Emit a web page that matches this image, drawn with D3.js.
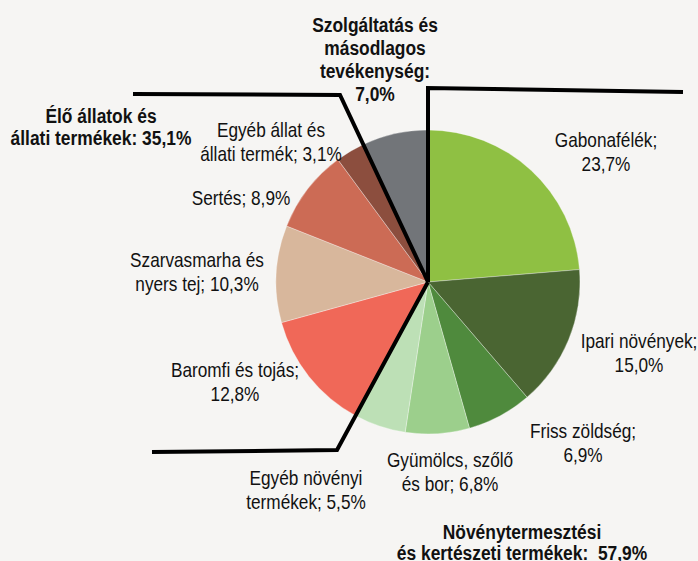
<!DOCTYPE html>
<html><head><meta charset="utf-8">
<script src="https://cdn.jsdelivr.net/npm/d3@7"></script>
<style>html,body{margin:0;padding:0;background:#f6f5f3;}svg{display:block;}</style>
</head><body>
<svg id="chart" width="698" height="561"></svg>
<script>
// ---- data ----
const categories = ["Gabonafélék", "Ipari növények", "Friss zöldség", "Gyümölcs, szőlő és bor", "Egyéb növényi termékek",
  "Baromfi és tojás", "Szarvasmarha és nyers tej", "Sertés", "Egyéb állat és állati termék", "Szolgáltatás és másodlagos tevékenység"];
const values = [23.7, 15.0, 6.9, 6.8, 5.5, 12.8, 10.3, 8.9, 3.1, 7.0];
const groupOf = ["plant", "plant", "plant", "plant", "plant", "animal", "animal", "animal", "animal", "service"];
const groups = ["Növénytermesztési és kertészeti termékek", "Élő állatok és állati termékek", "Szolgáltatás és másodlagos tevékenység"];
const groupKeys = ["plant", "animal", "service"];
const groupValues = [57.9, 35.1, 7.0];
const colors = ["#8fc043", "#4a6532", "#4f8a3d", "#9ccf8c", "#bde0b6", "#f06858", "#d8b79c", "#cc6b55", "#8c4e3e", "#727579"];

// ---- layout ----
const W = 698, H = 561, cx = 428, cy = 282, R = 152;
const fmt = v => d3.format(".1f")(v).replace(".", ",") + "%";
const svg = d3.select("#chart");
svg.append("rect").attr("width", W).attr("height", H).attr("fill", "#f6f5f3");

const data = categories.map((c, i) => ({c, v: values[i], g: groupOf[i], color: colors[i]}));
const pie = d3.pie().sort(null).value(d => d.v).startAngle(0).endAngle(2 * Math.PI);
const arc = d3.arc().innerRadius(0).outerRadius(R);
const arcs = pie(data);

const g = svg.append("g").attr("transform", `translate(${cx},${cy})`);
g.selectAll("path").data(arcs).join("path")
  .attr("d", arc).attr("fill", d => d.data.color)
  .attr("stroke", "rgba(255,255,255,0.45)").attr("stroke-width", 0.7);

// group boundary lines
const total = d3.sum(values);
function groupStart(key) {
  const idx = groupOf.indexOf(key);
  return d3.sum(values.slice(0, idx)) / total;
}
const lineSpecs = [
  {frac: groupStart("plant"), cornerY: 88, endX: 683, endY: 92},
  {frac: groupStart("animal"), cornerY: 450, endX: 152, endY: 452},
  {frac: groupStart("service"), cornerY: 95, endX: 133, endY: 94}
];
lineSpecs.forEach(s => {
  const a = s.frac * 2 * Math.PI;
  const dx = Math.sin(a), dy = -Math.cos(a);
  const t = (s.cornerY - cy) / dy;
  const px = cx + t * dx;
  svg.append("path")
    .attr("d", d3.line()([[cx, cy], [px, s.cornerY], [s.endX, s.endY]]))
    .attr("fill", "none").attr("stroke", "#000").attr("stroke-width", 4)
    .attr("stroke-linejoin", "miter");
});

// slice labels
const labelLayout = {
  "Gabonafélék": {x: 606, y: 147, wrap: 1},
  "Ipari növények": {x: 639, y: 348, wrap: 2},
  "Friss zöldség": {x: 583, y: 438, wrap: 2},
  "Gyümölcs, szőlő és bor": {x: 450, y: 467, wrap: 2},
  "Egyéb növényi termékek": {x: 306, y: 485, wrap: 2},
  "Baromfi és tojás": {x: 235, y: 377, wrap: 3},
  "Szarvasmarha és nyers tej": {x: 197, y: 267, wrap: 2},
  "Sertés": {x: 241, y: 205, wrap: 99},
  "Egyéb állat és állati termék": {x: 271, y: 137, wrap: 3}
};
function drawText(lines, x, y, lh, size, weight, sx) {
  const t = svg.append("g").attr("transform", `translate(${x},${y}) scale(${sx},1)`);
  lines.forEach((ln, i) => {
    t.append("text").attr("x", 0).attr("y", i * lh).attr("text-anchor", "middle")
      .attr("font-family", "'Liberation Sans', Arial, sans-serif")
      .attr("font-size", size).attr("font-weight", weight).attr("fill", "#111")
      .text(ln);
  });
}
data.forEach(d => {
  const L = labelLayout[d.c];
  if (!L) return;
  const words = (d.c + "; " + fmt(d.v)).split(" ");
  const lines = L.wrap >= words.length ? [words.join(" ")] : [words.slice(0, L.wrap).join(" "), words.slice(L.wrap).join(" ")];
  drawText(lines, L.x, L.y, 24, 21, "normal", 0.82);
});

// group labels
const groupLayout = {
  plant: {x: 522, y: 539, lh: 21, lines: (n, v) => ["Növénytermesztési", "és kertészeti termékek:\u00a0\u00a0" + v]},
  animal: {x: 101, y: 123, lh: 22, lines: (n, v) => ["Élő állatok és", "állati termékek: " + v]},
  service: {x: 375, y: 32, lh: 23, lines: (n, v) => ["Szolgáltatás és", "másodlagos", "tevékenység:", v]}
};
groupKeys.forEach((k, i) => {
  const L = groupLayout[k];
  drawText(L.lines(groups[i], fmt(groupValues[i])), L.x, L.y, L.lh, 20, "bold", 0.87);
});
</script>
</body></html>
